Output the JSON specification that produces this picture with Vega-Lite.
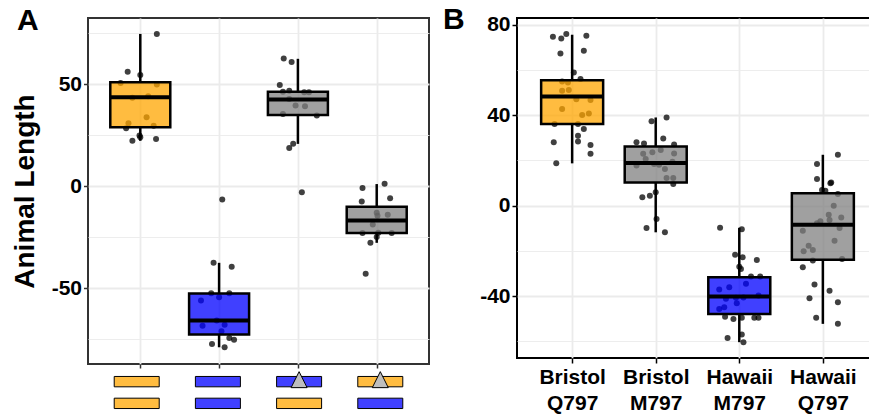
{
  "$schema": "https://vega.github.io/schema/vega-lite/v6.json",
  "background": "white",
  "padding": {"left": 10, "top": 3, "right": 0, "bottom": 0},
  "config": {"font": "Liberation Sans", "view": {"stroke": null}},
  "datasets": {
    "ptsA": [
      {"x": 1.21, "length": 74.7}, {"x": 0.84, "length": 56.2}, {"x": 1.00, "length": 54.6}, {"x": 0.75, "length": 50.7},
      {"x": 1.21, "length": 49.9}, {"x": 0.90, "length": 43.4}, {"x": 1.10, "length": 44.2}, {"x": 1.08, "length": 33.8},
      {"x": 0.85, "length": 30.9}, {"x": 0.82, "length": 28.5}, {"x": 1.17, "length": 29.7}, {"x": 0.99, "length": 24.9},
      {"x": 1.00, "length": 24.0}, {"x": 0.90, "length": 22.3}, {"x": 1.20, "length": 23.2},
      {"x": 2.04, "length": -6.5}, {"x": 1.93, "length": -37.5}, {"x": 2.16, "length": -39.4}, {"x": 1.90, "length": -52.4},
      {"x": 2.13, "length": -52.4}, {"x": 1.77, "length": -56.0}, {"x": 2.00, "length": -54.4}, {"x": 1.97, "length": -65.8},
      {"x": 1.79, "length": -68.4}, {"x": 2.07, "length": -67.9}, {"x": 2.03, "length": -71.1}, {"x": 2.13, "length": -74.3},
      {"x": 2.19, "length": -75.2}, {"x": 1.91, "length": -77.3}, {"x": 2.07, "length": -78.9},
      {"x": 2.82, "length": 62.7}, {"x": 2.92, "length": 60.9}, {"x": 2.77, "length": 49.7}, {"x": 2.81, "length": 46.4},
      {"x": 2.89, "length": 46.9}, {"x": 3.08, "length": 46.1}, {"x": 3.14, "length": 46.1}, {"x": 2.89, "length": 42.8},
      {"x": 2.97, "length": 39.6}, {"x": 3.09, "length": 39.2}, {"x": 2.81, "length": 35.5}, {"x": 3.24, "length": 34.7},
      {"x": 2.94, "length": 20.8}, {"x": 2.89, "length": 18.8}, {"x": 3.05, "length": -2.9},
      {"x": 3.82, "length": -0.8}, {"x": 4.10, "length": 1.2}, {"x": 3.81, "length": -7.4}, {"x": 4.17, "length": -5.9},
      {"x": 4.00, "length": -12.9}, {"x": 4.01, "length": -14.4}, {"x": 4.14, "length": -14.0}, {"x": 3.95, "length": -18.7},
      {"x": 3.82, "length": -22.9}, {"x": 4.02, "length": -22.8}, {"x": 4.19, "length": -22.9}, {"x": 4.00, "length": -24.8},
      {"x": 3.92, "length": -27.7}, {"x": 3.86, "length": -42.9}
    ],
    "boxA": [
      {"g": 1, "cls": "Bristol", "lower": 22.3, "q1": 29.0, "median": 43.6, "q3": 51.0, "upper": 74.7},
      {"g": 2, "cls": "Hawaii", "lower": -78.9, "q1": -72.7, "median": -65.8, "q3": -52.5, "upper": -37.5},
      {"g": 3, "cls": "Edited", "lower": 20.8, "q1": 35.0, "median": 42.6, "q3": 46.4, "upper": 62.5},
      {"g": 4, "cls": "Edited", "lower": -27.7, "q1": -22.9, "median": -16.8, "q3": -10.0, "upper": 1.1}
    ],
    "stripA": [
      {"g": 1, "row": "top", "allele": "Bristol"}, {"g": 1, "row": "bottom", "allele": "Bristol"},
      {"g": 2, "row": "top", "allele": "Hawaii"}, {"g": 2, "row": "bottom", "allele": "Hawaii"},
      {"g": 3, "row": "top", "allele": "Hawaii"}, {"g": 3, "row": "bottom", "allele": "Bristol"},
      {"g": 4, "row": "top", "allele": "Bristol"}, {"g": 4, "row": "bottom", "allele": "Hawaii"}
    ],
    "editA": [
      {"g": 3, "row": "top"}, {"g": 4, "row": "top"}
    ],
    "ptsB": [
      {"x": 0.77, "length": 74.7}, {"x": 0.87, "length": 73.9}, {"x": 0.93, "length": 75.9}, {"x": 1.17, "length": 75.1},
      {"x": 0.86, "length": 67.3}, {"x": 1.14, "length": 68.5}, {"x": 1.02, "length": 58.9}, {"x": 1.10, "length": 56.0},
      {"x": 0.88, "length": 54.9}, {"x": 0.95, "length": 54.5}, {"x": 0.88, "length": 50.8}, {"x": 0.96, "length": 51.1},
      {"x": 1.05, "length": 47.1}, {"x": 1.22, "length": 46.7}, {"x": 0.88, "length": 42.7}, {"x": 1.12, "length": 40.1},
      {"x": 1.20, "length": 40.8}, {"x": 0.79, "length": 36.1}, {"x": 1.07, "length": 36.1}, {"x": 1.14, "length": 33.9},
      {"x": 1.07, "length": 30.9}, {"x": 1.07, "length": 28.4}, {"x": 0.78, "length": 28.0}, {"x": 1.22, "length": 26.8},
      {"x": 1.22, "length": 22.9}, {"x": 0.81, "length": 18.7},
      {"x": 1.95, "length": 37.3}, {"x": 2.13, "length": 39.0}, {"x": 2.09, "length": 29.7}, {"x": 1.77, "length": 28.0},
      {"x": 1.86, "length": 27.5}, {"x": 2.22, "length": 27.0}, {"x": 2.06, "length": 24.6}, {"x": 1.96, "length": 23.6},
      {"x": 1.85, "length": 22.9}, {"x": 2.22, "length": 23.1}, {"x": 1.88, "length": 20.6}, {"x": 2.20, "length": 19.4},
      {"x": 1.77, "length": 17.7}, {"x": 1.98, "length": 18.4}, {"x": 2.04, "length": 18.1}, {"x": 2.11, "length": 16.2},
      {"x": 2.13, "length": 12.2}, {"x": 2.21, "length": 12.2}, {"x": 2.21, "length": 9.6}, {"x": 2.00, "length": 5.9},
      {"x": 1.93, "length": 4.4}, {"x": 1.84, "length": 3.7}, {"x": 2.01, "length": -5.9}, {"x": 1.89, "length": -9.9},
      {"x": 2.11, "length": -11.8},
      {"x": 2.77, "length": -9.8}, {"x": 3.03, "length": -10.4}, {"x": 2.95, "length": -21.7}, {"x": 3.04, "length": -22.8},
      {"x": 3.21, "length": -24.0}, {"x": 3.00, "length": -27.0}, {"x": 3.02, "length": -28.0}, {"x": 3.14, "length": -31.4},
      {"x": 3.25, "length": -31.4}, {"x": 3.08, "length": -34.6}, {"x": 2.88, "length": -36.1}, {"x": 2.76, "length": -37.1},
      {"x": 3.23, "length": -39.8}, {"x": 2.96, "length": -40.8}, {"x": 2.84, "length": -41.2}, {"x": 3.05, "length": -40.6},
      {"x": 2.97, "length": -43.2}, {"x": 2.76, "length": -45.7}, {"x": 2.82, "length": -44.9}, {"x": 2.83, "length": -49.1},
      {"x": 2.93, "length": -50.1}, {"x": 3.18, "length": -49.6}, {"x": 3.23, "length": -49.6}, {"x": 3.03, "length": -49.6},
      {"x": 3.03, "length": -57.0}, {"x": 2.86, "length": -58.6}, {"x": 3.05, "length": -60.4},
      {"x": 4.18, "length": 22.5}, {"x": 3.93, "length": 18.4}, {"x": 3.93, "length": 11.8}, {"x": 4.09, "length": 9.9},
      {"x": 4.10, "length": 10.2}, {"x": 3.99, "length": 6.9}, {"x": 4.03, "length": 6.6}, {"x": 4.18, "length": 5.2},
      {"x": 4.13, "length": 0.0}, {"x": 4.07, "length": -4.0}, {"x": 4.22, "length": -5.2}, {"x": 4.08, "length": -6.3},
      {"x": 3.97, "length": -6.9}, {"x": 3.93, "length": -7.8}, {"x": 4.20, "length": -9.9}, {"x": 3.76, "length": -11.1},
      {"x": 4.14, "length": -15.5}, {"x": 3.83, "length": -17.7}, {"x": 3.88, "length": -19.6}, {"x": 3.77, "length": -20.2},
      {"x": 3.88, "length": -24.3}, {"x": 4.23, "length": -23.6}, {"x": 3.76, "length": -27.3}, {"x": 3.90, "length": -34.9},
      {"x": 4.08, "length": -37.6}, {"x": 3.84, "length": -41.0}, {"x": 4.18, "length": -42.7}, {"x": 3.92, "length": -49.6},
      {"x": 4.18, "length": -52.3}
    ],
    "boxB": [
      {"g": 1, "cls": "Bristol", "lower": 18.7, "q1": 36.1, "median": 48.3, "q3": 55.5, "upper": 75.6},
      {"g": 2, "cls": "Edited", "lower": -11.8, "q1": 10.2, "median": 18.9, "q3": 26.2, "upper": 39.0},
      {"g": 3, "cls": "Hawaii", "lower": -60.4, "q1": -47.9, "median": -40.2, "q3": -31.7, "upper": -9.8},
      {"g": 4, "cls": "Edited", "lower": -52.3, "q1": -23.9, "median": -8.5, "q3": 5.5, "upper": 22.5}
    ]
  },
  "spacing": 12,
  "hconcat": [
    {
      "bounds": "flush",
      "spacing": 7,
      "vconcat": [
        {
          "width": 341,
          "height": 346,
          "view": {"stroke": "#333333", "strokeWidth": 2},
          "title": {"text": "A", "anchor": "start", "frame": "bounds", "dx": 6, "offset": -18, "fontSize": 30, "fontWeight": "bold", "color": "black", "font": "Liberation Sans"},
          "encoding": {
            "x": {"type": "quantitative", "scale": {"domain": [0.4, 4.6], "nice": false, "zero": false},
              "axis": {"values": [1, 2, 3, 4], "labels": false, "title": null, "domain": false, "tickSize": 4, "tickColor": "#333333", "tickWidth": 1.5,
                "grid": true, "gridColor": "#EBEBEB", "gridWidth": 1.8}},
            "y": {"type": "quantitative", "scale": {"domain": [-87.1, 82.5], "nice": false, "zero": false},
              "axis": {"values": [-75, -50, -25, 0, 25, 50, 75],
                "labelExpr": "datum.value % 50 === 0 ? '' + datum.value : ''",
                "labelFontSize": 21, "labelFontWeight": "bold", "labelColor": "black", "labelPadding": 2,
                "tickSize": 4.5, "tickColor": "#333333", "tickWidth": 1.5,
                "tickOpacity": {"condition": {"test": "datum.value % 50 !== 0", "value": 0}, "value": 1},
                "grid": true, "gridColor": "#EBEBEB",
                "gridWidth": {"condition": {"test": "datum.value % 50 !== 0", "value": 0.9}, "value": 1.8},
                "domain": false, "minExtent": 42, "maxExtent": 42,
                "title": "Animal Length", "titleFontSize": 28, "titleFontWeight": "bold", "titleColor": "black", "titlePadding": 7}}
          },
          "layer": [
            {
              "data": {"name": "ptsA"},
              "mark": {"type": "point", "filled": true, "color": "black", "opacity": 0.75, "size": 36},
              "encoding": {"x": {"field": "x"}, "y": {"field": "length"}}
            },
            {
              "data": {"name": "boxA"},
              "mark": {"type": "rule", "color": "black", "strokeWidth": 2.5},
              "encoding": {"x": {"field": "g"}, "y": {"field": "lower"}, "y2": {"field": "q1"}}
            },
            {
              "data": {"name": "boxA"},
              "mark": {"type": "rule", "color": "black", "strokeWidth": 2.5},
              "encoding": {"x": {"field": "g"}, "y": {"field": "q3"}, "y2": {"field": "upper"}}
            },
            {
              "data": {"name": "boxA"},
              "mark": {"type": "bar", "size": 60, "stroke": "black", "strokeWidth": 2.5, "fillOpacity": 0.75},
              "encoding": {"x": {"field": "g"}, "y": {"field": "q1"}, "y2": {"field": "q3"},
                "fill": {"field": "cls", "type": "nominal", "legend": null,
                  "scale": {"domain": ["Bristol", "Hawaii", "Edited"], "range": ["#FFA500", "#0000FF", "#808080"]}}}
            },
            {
              "data": {"name": "boxA"},
              "mark": {"type": "tick", "orient": "horizontal", "size": 60, "thickness": 4, "color": "black", "opacity": 1},
              "encoding": {"x": {"field": "g"}, "y": {"field": "median"}}
            }
          ]
        },
        {
          "width": 341,
          "height": 43,
          "view": {"stroke": null},
          "encoding": {
            "x": {"field": "g", "type": "quantitative", "scale": {"domain": [0.4, 4.6], "nice": false, "zero": false}, "axis": null},
            "y": {"field": "row", "type": "nominal", "sort": ["top", "bottom"], "scale": {"type": "point", "padding": 0.49}, "axis": null}
          },
          "layer": [
            {
              "data": {"name": "stripA"},
              "mark": {"type": "point", "filled": true, "shape": "M-1,-0.23L1,-0.23L1,0.23L-1,0.23Z", "size": 2025, "stroke": "black", "strokeWidth": 1, "fillOpacity": 0.75, "strokeOpacity": 1, "opacity": 1},
              "encoding": {
                "fill": {"field": "allele", "type": "nominal", "legend": null,
                  "scale": {"domain": ["Bristol", "Hawaii", "Edited"], "range": ["#FFA500", "#0000FF", "#808080"]}}
              }
            },
            {
              "data": {"name": "editA"},
              "mark": {"type": "point", "filled": true, "shape": "M-1,0.75L0,-1.25L1,0.75Z", "size": 256, "fill": "#BEBEBE", "stroke": "black", "strokeWidth": 1, "opacity": 1}
            }
          ]
        }
      ]
    },
    {
      "width": 361,
      "height": 340,
      "view": {"stroke": "black", "strokeWidth": 2},
      "title": {"text": "B", "anchor": "start", "frame": "bounds", "dx": -4, "offset": -21, "fontSize": 30, "fontWeight": "bold", "color": "black", "font": "Liberation Sans"},
      "encoding": {
        "x": {"type": "quantitative", "scale": {"domain": [0.4, 4.6], "nice": false, "zero": false},
          "axis": {"values": [1, 2, 3, 4],
            "labelExpr": "datum.value == 1 ? ['Bristol', 'Q797'] : datum.value == 2 ? ['Bristol', 'M797'] : datum.value == 3 ? ['Hawaii', 'M797'] : ['Hawaii', 'Q797']",
            "labelFontSize": 21, "labelFontWeight": "bold", "labelColor": "black", "labelLineHeight": 26, "labelPadding": 3,
            "title": null, "domain": false, "tickSize": 5, "tickColor": "black", "tickWidth": 1.5,
            "grid": true, "gridColor": "#EBEBEB", "gridWidth": 1.8}},
        "y": {"type": "quantitative", "scale": {"domain": [-67.4, 83], "nice": false, "zero": false},
          "axis": {"values": [-60, -40, -20, 0, 20, 40, 60, 80],
            "labelExpr": "datum.value % 40 === 0 ? '' + datum.value : ''",
            "labelFontSize": 21, "labelFontWeight": "bold", "labelColor": "black", "labelPadding": 2,
            "tickSize": 5, "tickColor": "black", "tickWidth": 1.5,
            "tickOpacity": {"condition": {"test": "datum.value % 40 !== 0", "value": 0}, "value": 1},
            "grid": true, "gridColor": "#EBEBEB",
            "gridWidth": {"condition": {"test": "datum.value % 40 !== 0", "value": 0.9}, "value": 1.8},
            "domain": false, "title": null, "minExtent": 70, "maxExtent": 70}}
      },
      "layer": [
        {
          "data": {"name": "ptsB"},
          "mark": {"type": "point", "filled": true, "color": "black", "opacity": 0.75, "size": 36},
          "encoding": {"x": {"field": "x"}, "y": {"field": "length"}}
        },
        {
          "data": {"name": "boxB"},
          "mark": {"type": "rule", "color": "black", "strokeWidth": 2.5},
          "encoding": {"x": {"field": "g"}, "y": {"field": "lower"}, "y2": {"field": "q1"}}
        },
        {
          "data": {"name": "boxB"},
          "mark": {"type": "rule", "color": "black", "strokeWidth": 2.5},
          "encoding": {"x": {"field": "g"}, "y": {"field": "q3"}, "y2": {"field": "upper"}}
        },
        {
          "data": {"name": "boxB"},
          "mark": {"type": "bar", "size": 62, "stroke": "black", "strokeWidth": 2.5, "fillOpacity": 0.75},
          "encoding": {"x": {"field": "g"}, "y": {"field": "q1"}, "y2": {"field": "q3"},
            "fill": {"field": "cls", "type": "nominal", "legend": null,
              "scale": {"domain": ["Bristol", "Hawaii", "Edited"], "range": ["#FFA500", "#0000FF", "#808080"]}}}
        },
        {
          "data": {"name": "boxB"},
          "mark": {"type": "tick", "orient": "horizontal", "size": 62, "thickness": 4, "color": "black", "opacity": 1},
          "encoding": {"x": {"field": "g"}, "y": {"field": "median"}}
        }
      ]
    }
  ]
}
